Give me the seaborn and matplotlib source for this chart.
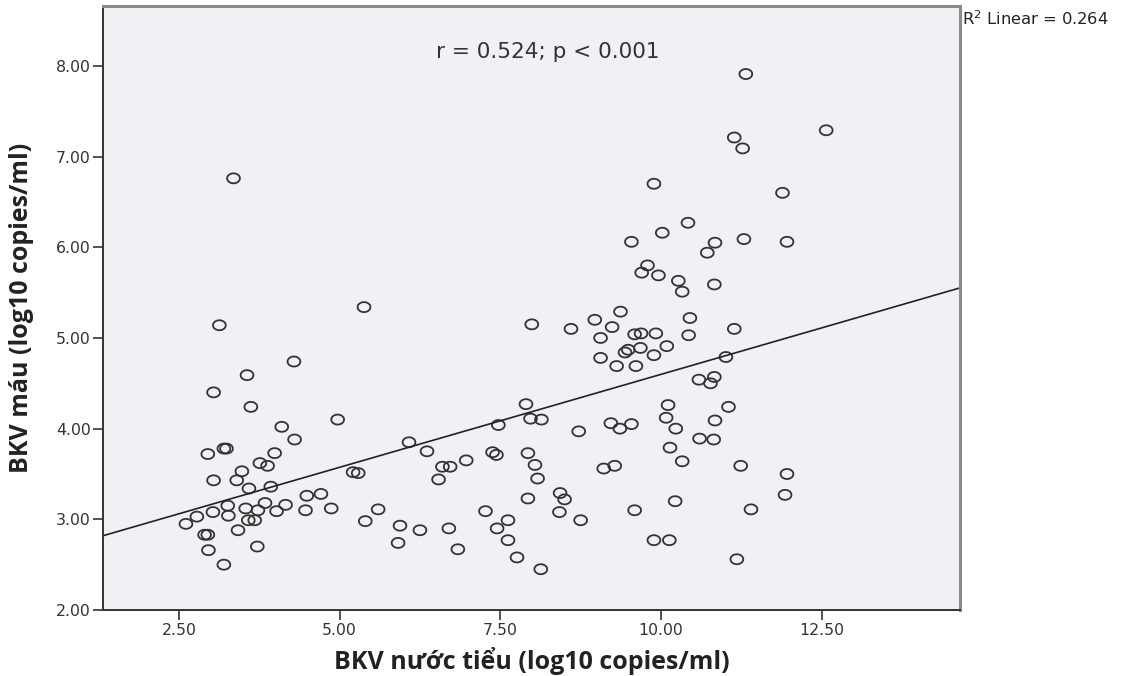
import numpy as np
import pandas as pd
import seaborn as sns
import matplotlib.pyplot as plt
from matplotlib.path import Path
from matplotlib.ticker import FormatStrFormatter

# BKV load, urine (x) vs blood (y), log10 copies/ml
urine = [3.13, 4.29, 3.56, 3.04, 3.62, 4.10, 4.30, 3.20, 3.24, 2.95,
         3.99, 3.76, 3.88, 3.48, 3.04, 3.40, 3.59, 3.93, 3.26, 3.54,
         3.73, 3.84, 4.16, 4.02, 3.03, 2.78, 3.27, 2.61, 3.58, 3.68,
         2.90, 2.95, 3.42, 2.96, 3.72, 3.20, 3.35,
         5.38, 4.97, 6.08, 6.36, 5.21, 5.29, 6.60, 6.72, 6.97, 6.54,
         4.49, 4.71, 4.47, 4.87, 5.60, 5.40, 5.94, 6.25, 6.70, 5.91, 6.84,
         7.99, 8.60, 8.97, 9.37, 9.24, 9.59, 9.69, 9.92, 9.06, 10.09,
         9.44, 9.49, 9.68, 9.89, 9.06, 9.31, 9.61, 7.90, 7.97, 8.14,
         7.47, 8.72, 9.22, 9.36, 9.54, 10.11, 10.08, 10.23, 7.38, 7.44,
         7.93, 8.04, 8.08, 9.11, 9.28, 10.14, 7.93, 8.43, 8.50, 7.27,
         7.62, 7.45, 8.42, 8.75, 9.59, 7.62, 7.76, 8.13, 9.89, 10.13,
         10.45, 10.43, 11.14, 11.01, 10.59, 10.83, 10.77, 11.05, 10.84, 10.60,
         10.82, 10.33, 11.24, 11.96, 10.22, 11.93, 11.40, 11.18,
         11.14, 11.27, 12.57, 9.89, 11.89, 10.42, 10.02, 9.54, 11.29, 11.96,
         10.84, 10.72, 9.79, 9.70, 9.96, 10.27, 10.33, 10.83, 11.32]
blood = [5.14, 4.74, 4.59, 4.40, 4.24, 4.02, 3.88, 3.78, 3.78, 3.72,
         3.73, 3.62, 3.59, 3.53, 3.43, 3.43, 3.34, 3.36, 3.15, 3.12,
         3.10, 3.18, 3.16, 3.09, 3.08, 3.03, 3.04, 2.95, 2.99, 2.99,
         2.83, 2.83, 2.88, 2.66, 2.70, 2.50, 6.76,
         5.34, 4.10, 3.85, 3.75, 3.52, 3.51, 3.58, 3.58, 3.65, 3.44,
         3.26, 3.28, 3.10, 3.12, 3.11, 2.98, 2.93, 2.88, 2.90, 2.74, 2.67,
         5.15, 5.10, 5.20, 5.29, 5.12, 5.04, 5.05, 5.05, 5.00, 4.91,
         4.84, 4.87, 4.89, 4.81, 4.78, 4.69, 4.69, 4.27, 4.11, 4.10,
         4.04, 3.97, 4.06, 4.00, 4.05, 4.26, 4.12, 4.00, 3.74, 3.71,
         3.73, 3.60, 3.45, 3.56, 3.59, 3.79, 3.23, 3.29, 3.22, 3.09,
         2.99, 2.90, 3.08, 2.99, 3.10, 2.77, 2.58, 2.45, 2.77, 2.77,
         5.22, 5.03, 5.10, 4.79, 4.54, 4.57, 4.50, 4.24, 4.09, 3.89,
         3.88, 3.64, 3.59, 3.50, 3.20, 3.27, 3.11, 2.56,
         7.21, 7.09, 7.29, 6.70, 6.60, 6.27, 6.16, 6.06, 6.09, 6.06,
         6.05, 5.94, 5.80, 5.72, 5.69, 5.63, 5.51, 5.59, 7.91]

# precomposed Vietnamese letters so the accents sit on their glyphs
x_label = "BKV n\u01b0\u1edbc ti\u1ec3u (log10 copies/ml)"
y_label = "BKV m\u00e1u (log10 copies/ml)"

df = pd.DataFrame({"urine": urine, "blood": blood})

sns.set_style("white")
plt.rcParams["font.family"] = ["DejaVu Sans", "Liberation Sans"]
label_font = ["Open Sans", "Liberation Sans"]

fig = plt.figure(figsize=(11.26, 6.76), dpi=100)
ax = fig.add_axes([0.0915, 0.0976, 0.761, 0.8935])
ax.set_facecolor("#F0F1F4")
ax.set_xlim(1.32, 14.65)
ax.set_ylim(2.0, 8.66)

# slightly flattened open circle, like the SPSS output
t = np.linspace(0, 2 * np.pi, 40)
ellipse = Path(np.column_stack([np.cos(t), 0.78 * np.sin(t)]))

sns.regplot(data=df, x="urine", y="blood", ax=ax, ci=None, truncate=False,
            marker=ellipse,
            scatter_kws={"s": 85, "facecolors": "none", "edgecolors": "#333333",
                         "linewidths": 1.3, "alpha": 1},
            line_kws={"color": "#222222", "linewidth": 1.2})

ax.set_xticks([2.5, 5.0, 7.5, 10.0, 12.5])
ax.set_yticks([2, 3, 4, 5, 6, 7, 8])
ax.xaxis.set_major_formatter(FormatStrFormatter("%.2f"))
ax.yaxis.set_major_formatter(FormatStrFormatter("%.2f"))
ax.tick_params(axis="both", direction="out", length=7.5, width=1.2,
               color="#333333", labelsize=11.3, labelcolor="#333333",
               bottom=True, left=True, pad=1.5)

for side in ["left", "bottom"]:
    ax.spines[side].set_color("#333333")
    ax.spines[side].set_linewidth(1.4)
for side in ["top", "right"]:
    ax.spines[side].set_color("#8a8a8a")
    ax.spines[side].set_linewidth(2.2)

ax.set_xlabel(x_label, fontsize=18, fontweight="bold", color="#222222",
              family=label_font)
ax.set_ylabel(y_label, fontsize=18, fontweight="bold", color="#222222",
              family=label_font)
ax.xaxis.set_label_coords(0.5, -0.062)
ax.yaxis.set_label_coords(-0.081, 0.5)

ax.text(0.519, 0.924, "r = 0.524; p < 0.001", transform=ax.transAxes,
        ha="center", va="center", fontsize=15.5, color="#333333")
fig.text(0.8545, 0.972, "R$^2$ Linear = 0.264", ha="left", va="center",
         fontsize=11.8, color="#222222")

fig.savefig("out.png", dpi=100, facecolor="white")
